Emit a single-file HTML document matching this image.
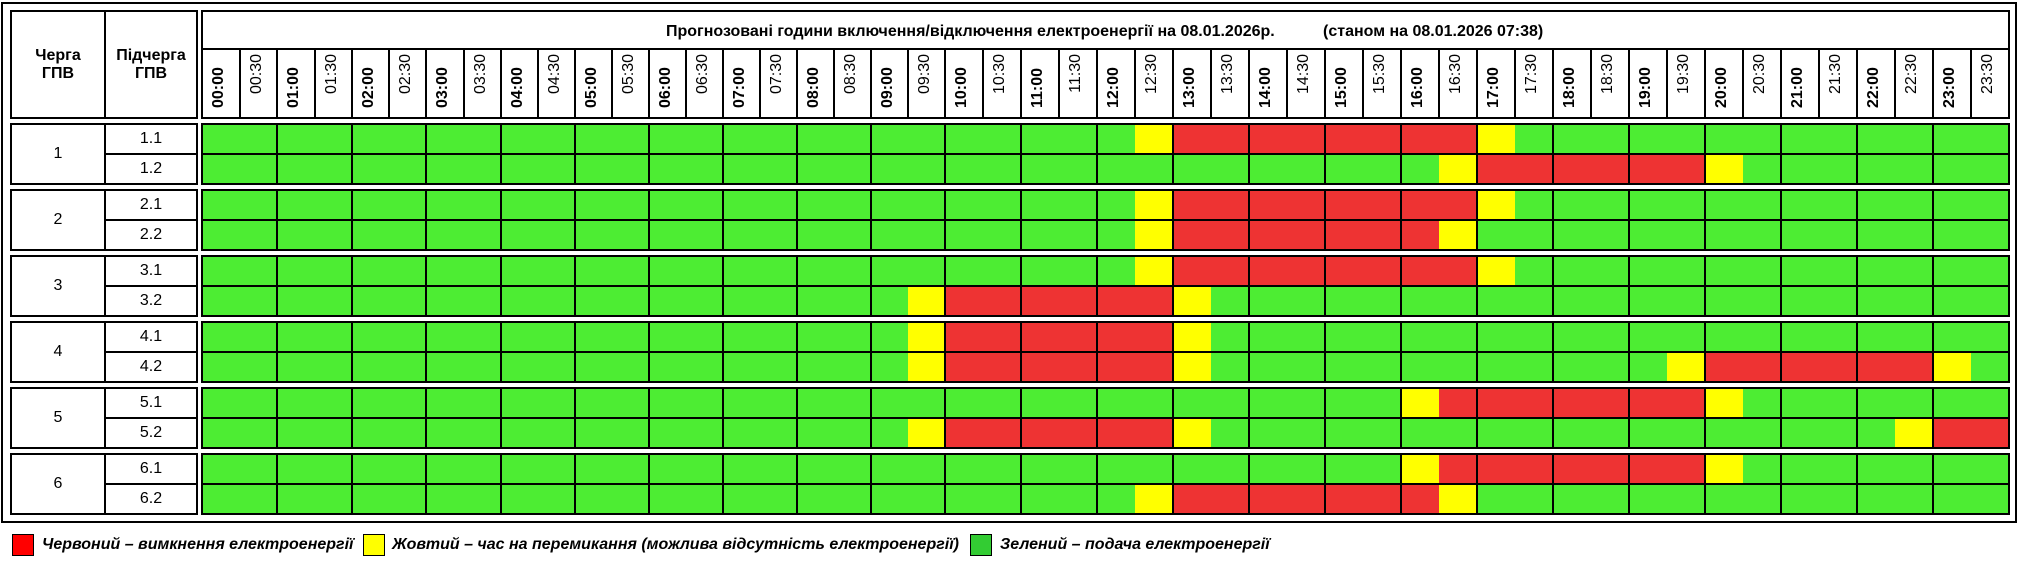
<!DOCTYPE html>
<html><head><meta charset="utf-8"><style>
html,body{margin:0;padding:0;background:#fff;width:2020px;height:570px;overflow:hidden;font-family:"Liberation Sans",Arial,sans-serif;color:#000}
body{position:relative}
div{position:absolute;box-sizing:border-box}
.bx{border:2px solid #000}
.v{width:2px;background:#000}
.hl{height:2px;background:#000}
.g{background:#4ded33}
.r{background:#ee3333;height:28px}
.y{background:#ffff00;height:28px}
.c{display:flex;align-items:center;justify-content:center;text-align:center;font-size:16px;line-height:normal}
.tb,.tr{width:60px;height:16px;line-height:16px;font-size:16px;transform:rotate(-90deg);white-space:nowrap}
.tb{top:70.4px;font-weight:bold;text-align:left}
.tr{top:75.6px;text-align:right}
.w{background:#fff;height:4px;left:199px;width:1813px}
.lg{width:22px;height:22px;border:1px solid #000;top:534px}
.lt{top:535.5px;font-size:16px;line-height:18px;font-weight:bold;font-style:italic;white-space:nowrap}
.ti{top:23px;font-size:16px;line-height:18px;font-weight:bold;white-space:nowrap}
</style></head><body>

<!-- outer frame -->
<div class="bx" style="left:1px;top:2px;width:2016px;height:521px"></div>

<!-- left header -->
<div class="bx" style="left:10px;top:10px;width:188px;height:109px"></div>
<div class="v" style="left:104px;top:10px;height:109px"></div>
<div class="c" style="left:12px;top:12px;width:92px;height:105px;font-weight:bold">Черга<br>ГПВ</div>
<div class="c" style="left:106px;top:12px;width:90px;height:105px;font-weight:bold">Підчерга<br>ГПВ</div>

<!-- left groups -->
<div class="bx" style="left:10px;top:123px;width:188px;height:62px"></div>
<div class="v" style="left:104px;top:123px;height:62px"></div>
<div class="hl" style="left:104px;top:153px;width:94px"></div>
<div class="c" style="left:12px;top:125px;width:92px;height:58px">1</div>
<div class="c" style="left:106px;top:125px;width:90px;height:28px">1.1</div>
<div class="c" style="left:106px;top:155px;width:90px;height:28px">1.2</div>

<div class="bx" style="left:10px;top:189px;width:188px;height:62px"></div>
<div class="v" style="left:104px;top:189px;height:62px"></div>
<div class="hl" style="left:104px;top:219px;width:94px"></div>
<div class="c" style="left:12px;top:191px;width:92px;height:58px">2</div>
<div class="c" style="left:106px;top:191px;width:90px;height:28px">2.1</div>
<div class="c" style="left:106px;top:221px;width:90px;height:28px">2.2</div>

<div class="bx" style="left:10px;top:255px;width:188px;height:62px"></div>
<div class="v" style="left:104px;top:255px;height:62px"></div>
<div class="hl" style="left:104px;top:285px;width:94px"></div>
<div class="c" style="left:12px;top:257px;width:92px;height:58px">3</div>
<div class="c" style="left:106px;top:257px;width:90px;height:28px">3.1</div>
<div class="c" style="left:106px;top:287px;width:90px;height:28px">3.2</div>

<div class="bx" style="left:10px;top:321px;width:188px;height:62px"></div>
<div class="v" style="left:104px;top:321px;height:62px"></div>
<div class="hl" style="left:104px;top:351px;width:94px"></div>
<div class="c" style="left:12px;top:323px;width:92px;height:58px">4</div>
<div class="c" style="left:106px;top:323px;width:90px;height:28px">4.1</div>
<div class="c" style="left:106px;top:353px;width:90px;height:28px">4.2</div>

<div class="bx" style="left:10px;top:387px;width:188px;height:62px"></div>
<div class="v" style="left:104px;top:387px;height:62px"></div>
<div class="hl" style="left:104px;top:417px;width:94px"></div>
<div class="c" style="left:12px;top:389px;width:92px;height:58px">5</div>
<div class="c" style="left:106px;top:389px;width:90px;height:28px">5.1</div>
<div class="c" style="left:106px;top:419px;width:90px;height:28px">5.2</div>

<div class="bx" style="left:10px;top:453px;width:188px;height:62px"></div>
<div class="v" style="left:104px;top:453px;height:62px"></div>
<div class="hl" style="left:104px;top:483px;width:94px"></div>
<div class="c" style="left:12px;top:455px;width:92px;height:58px">6</div>
<div class="c" style="left:106px;top:455px;width:90px;height:28px">6.1</div>
<div class="c" style="left:106px;top:485px;width:90px;height:28px">6.2</div>

<!-- grid green backgrounds -->
<div class="g" style="left:201px;top:123px;width:1809px;height:62px"></div>
<div class="g" style="left:201px;top:189px;width:1809px;height:62px"></div>
<div class="g" style="left:201px;top:255px;width:1809px;height:62px"></div>
<div class="g" style="left:201px;top:321px;width:1809px;height:62px"></div>
<div class="g" style="left:201px;top:387px;width:1809px;height:62px"></div>
<div class="g" style="left:201px;top:453px;width:1809px;height:62px"></div>

<!-- runs: 1.1 / 1.2 -->
<div class="y" style="left:1135px;top:125px;width:37px"></div>
<div class="r" style="left:1172px;top:125px;width:304px"></div>
<div class="y" style="left:1476px;top:125px;width:39px"></div>
<div class="y" style="left:1439px;top:155px;width:37px"></div>
<div class="r" style="left:1476px;top:155px;width:228px"></div>
<div class="y" style="left:1704px;top:155px;width:39px"></div>
<!-- 2.1 / 2.2 -->
<div class="y" style="left:1135px;top:191px;width:37px"></div>
<div class="r" style="left:1172px;top:191px;width:304px"></div>
<div class="y" style="left:1476px;top:191px;width:39px"></div>
<div class="y" style="left:1135px;top:221px;width:37px"></div>
<div class="r" style="left:1172px;top:221px;width:267px"></div>
<div class="y" style="left:1439px;top:221px;width:37px"></div>
<!-- 3.1 / 3.2 -->
<div class="y" style="left:1135px;top:257px;width:37px"></div>
<div class="r" style="left:1172px;top:257px;width:304px"></div>
<div class="y" style="left:1476px;top:257px;width:39px"></div>
<div class="y" style="left:908px;top:287px;width:36px"></div>
<div class="r" style="left:944px;top:287px;width:228px"></div>
<div class="y" style="left:1172px;top:287px;width:39px"></div>
<!-- 4.1 / 4.2 -->
<div class="y" style="left:908px;top:323px;width:36px"></div>
<div class="r" style="left:944px;top:323px;width:228px"></div>
<div class="y" style="left:1172px;top:323px;width:39px"></div>
<div class="y" style="left:908px;top:353px;width:36px"></div>
<div class="r" style="left:944px;top:353px;width:228px"></div>
<div class="y" style="left:1172px;top:353px;width:39px"></div>
<div class="y" style="left:1667px;top:353px;width:37px"></div>
<div class="r" style="left:1704px;top:353px;width:228px"></div>
<div class="y" style="left:1932px;top:353px;width:39px"></div>
<!-- 5.1 / 5.2 -->
<div class="y" style="left:1400px;top:389px;width:39px"></div>
<div class="r" style="left:1439px;top:389px;width:265px"></div>
<div class="y" style="left:1704px;top:389px;width:39px"></div>
<div class="y" style="left:908px;top:419px;width:36px"></div>
<div class="r" style="left:944px;top:419px;width:228px"></div>
<div class="y" style="left:1172px;top:419px;width:39px"></div>
<div class="y" style="left:1895px;top:419px;width:37px"></div>
<div class="r" style="left:1932px;top:419px;width:76px"></div>
<!-- 6.1 / 6.2 -->
<div class="y" style="left:1400px;top:455px;width:39px"></div>
<div class="r" style="left:1439px;top:455px;width:265px"></div>
<div class="y" style="left:1704px;top:455px;width:39px"></div>
<div class="y" style="left:1135px;top:485px;width:37px"></div>
<div class="r" style="left:1172px;top:485px;width:267px"></div>
<div class="y" style="left:1439px;top:485px;width:37px"></div>

<!-- hour lines (full height) -->
<div class="v" style="left:276px;top:48px;height:467px"></div>
<div class="v" style="left:351px;top:48px;height:467px"></div>
<div class="v" style="left:425px;top:48px;height:467px"></div>
<div class="v" style="left:500px;top:48px;height:467px"></div>
<div class="v" style="left:574px;top:48px;height:467px"></div>
<div class="v" style="left:648px;top:48px;height:467px"></div>
<div class="v" style="left:722px;top:48px;height:467px"></div>
<div class="v" style="left:796px;top:48px;height:467px"></div>
<div class="v" style="left:870px;top:48px;height:467px"></div>
<div class="v" style="left:944px;top:48px;height:467px"></div>
<div class="v" style="left:1020px;top:48px;height:467px"></div>
<div class="v" style="left:1096px;top:48px;height:467px"></div>
<div class="v" style="left:1172px;top:48px;height:467px"></div>
<div class="v" style="left:1248px;top:48px;height:467px"></div>
<div class="v" style="left:1324px;top:48px;height:467px"></div>
<div class="v" style="left:1400px;top:48px;height:467px"></div>
<div class="v" style="left:1476px;top:48px;height:467px"></div>
<div class="v" style="left:1552px;top:48px;height:467px"></div>
<div class="v" style="left:1628px;top:48px;height:467px"></div>
<div class="v" style="left:1704px;top:48px;height:467px"></div>
<div class="v" style="left:1780px;top:48px;height:467px"></div>
<div class="v" style="left:1856px;top:48px;height:467px"></div>
<div class="v" style="left:1932px;top:48px;height:467px"></div>

<!-- half-hour lines (header only) -->
<div class="v" style="left:238.5px;top:48px;height:71px"></div>
<div class="v" style="left:313.5px;top:48px;height:71px"></div>
<div class="v" style="left:388px;top:48px;height:71px"></div>
<div class="v" style="left:462.5px;top:48px;height:71px"></div>
<div class="v" style="left:537px;top:48px;height:71px"></div>
<div class="v" style="left:611px;top:48px;height:71px"></div>
<div class="v" style="left:685px;top:48px;height:71px"></div>
<div class="v" style="left:759px;top:48px;height:71px"></div>
<div class="v" style="left:833px;top:48px;height:71px"></div>
<div class="v" style="left:907px;top:48px;height:71px"></div>
<div class="v" style="left:982px;top:48px;height:71px"></div>
<div class="v" style="left:1058px;top:48px;height:71px"></div>
<div class="v" style="left:1134px;top:48px;height:71px"></div>
<div class="v" style="left:1210px;top:48px;height:71px"></div>
<div class="v" style="left:1286px;top:48px;height:71px"></div>
<div class="v" style="left:1362px;top:48px;height:71px"></div>
<div class="v" style="left:1438px;top:48px;height:71px"></div>
<div class="v" style="left:1514px;top:48px;height:71px"></div>
<div class="v" style="left:1590px;top:48px;height:71px"></div>
<div class="v" style="left:1666px;top:48px;height:71px"></div>
<div class="v" style="left:1742px;top:48px;height:71px"></div>
<div class="v" style="left:1818px;top:48px;height:71px"></div>
<div class="v" style="left:1894px;top:48px;height:71px"></div>
<div class="v" style="left:1970px;top:48px;height:71px"></div>

<!-- white gaps between blocks -->
<div class="w" style="top:119px"></div>
<div class="w" style="top:185px"></div>
<div class="w" style="top:251px"></div>
<div class="w" style="top:317px"></div>
<div class="w" style="top:383px"></div>
<div class="w" style="top:449px"></div>

<!-- grid header box -->
<div class="bx" style="left:201px;top:10px;width:1809px;height:109px"></div>
<div class="hl" style="left:201px;top:48px;width:1809px"></div>
<div class="ti" style="left:666px">Прогнозовані години включення/відключення електроенергії на 08.01.2026р.</div>
<div class="ti" style="left:1323px">(станом на 08.01.2026 07:38)</div>

<!-- group borders + separators -->
<div class="bx" style="left:201px;top:123px;width:1809px;height:62px"></div>
<div class="hl" style="left:201px;top:153px;width:1809px"></div>
<div class="bx" style="left:201px;top:189px;width:1809px;height:62px"></div>
<div class="hl" style="left:201px;top:219px;width:1809px"></div>
<div class="bx" style="left:201px;top:255px;width:1809px;height:62px"></div>
<div class="hl" style="left:201px;top:285px;width:1809px"></div>
<div class="bx" style="left:201px;top:321px;width:1809px;height:62px"></div>
<div class="hl" style="left:201px;top:351px;width:1809px"></div>
<div class="bx" style="left:201px;top:387px;width:1809px;height:62px"></div>
<div class="hl" style="left:201px;top:417px;width:1809px"></div>
<div class="bx" style="left:201px;top:453px;width:1809px;height:62px"></div>
<div class="hl" style="left:201px;top:483px;width:1809px"></div>

<!-- rotated time labels -->
<div class="tb" style="left:189px">00:00</div>
<div class="tr" style="left:226.5px">00:30</div>
<div class="tb" style="left:264px">01:00</div>
<div class="tr" style="left:301.5px">01:30</div>
<div class="tb" style="left:338.75px">02:00</div>
<div class="tr" style="left:375.75px">02:30</div>
<div class="tb" style="left:413px">03:00</div>
<div class="tr" style="left:450.5px">03:30</div>
<div class="tb" style="left:487.75px">04:00</div>
<div class="tr" style="left:524.75px">04:30</div>
<div class="tb" style="left:561.75px">05:00</div>
<div class="tr" style="left:598.75px">05:30</div>
<div class="tb" style="left:635.75px">06:00</div>
<div class="tr" style="left:672.75px">06:30</div>
<div class="tb" style="left:709.75px">07:00</div>
<div class="tr" style="left:746.75px">07:30</div>
<div class="tb" style="left:783.75px">08:00</div>
<div class="tr" style="left:820.75px">08:30</div>
<div class="tb" style="left:857.75px">09:00</div>
<div class="tr" style="left:894.75px">09:30</div>
<div class="tb" style="left:932.25px">10:00</div>
<div class="tr" style="left:970.25px">10:30</div>
<div class="tb" style="left:1008.25px">11:00</div>
<div class="tr" style="left:1046.25px">11:30</div>
<div class="tb" style="left:1084.25px">12:00</div>
<div class="tr" style="left:1122.25px">12:30</div>
<div class="tb" style="left:1160.25px">13:00</div>
<div class="tr" style="left:1198.25px">13:30</div>
<div class="tb" style="left:1236.25px">14:00</div>
<div class="tr" style="left:1274.25px">14:30</div>
<div class="tb" style="left:1312.25px">15:00</div>
<div class="tr" style="left:1350.25px">15:30</div>
<div class="tb" style="left:1388.25px">16:00</div>
<div class="tr" style="left:1426.25px">16:30</div>
<div class="tb" style="left:1464.25px">17:00</div>
<div class="tr" style="left:1502.25px">17:30</div>
<div class="tb" style="left:1540.25px">18:00</div>
<div class="tr" style="left:1578.25px">18:30</div>
<div class="tb" style="left:1616.25px">19:00</div>
<div class="tr" style="left:1654.25px">19:30</div>
<div class="tb" style="left:1692.25px">20:00</div>
<div class="tr" style="left:1730.25px">20:30</div>
<div class="tb" style="left:1768.25px">21:00</div>
<div class="tr" style="left:1806.25px">21:30</div>
<div class="tb" style="left:1844.25px">22:00</div>
<div class="tr" style="left:1882.25px">22:30</div>
<div class="tb" style="left:1920.25px">23:00</div>
<div class="tr" style="left:1958.25px">23:30</div>

<!-- legend -->
<div class="lg" style="left:12px;background:#ff0000"></div>
<div class="lt" style="left:42px">Червоний – вимкнення електроенергії</div>
<div class="lg" style="left:363px;background:#ffff00"></div>
<div class="lt" style="left:392px">Жовтий – час на перемикання (можлива відсутність електроенергії)</div>
<div class="lg" style="left:970px;background:#33cc33"></div>
<div class="lt" style="left:1000px">Зелений – подача електроенергії</div>

</body></html>
